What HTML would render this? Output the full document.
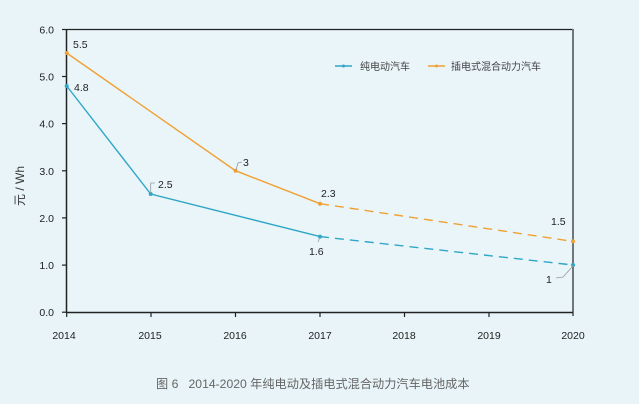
<!DOCTYPE html>
<html><head><meta charset="utf-8"><style>
html,body{margin:0;padding:0;}
body{width:639px;height:404px;background:#e8f4f8;overflow:hidden;}
svg{display:block;}
text{font-family:"Liberation Sans","Noto Sans CJK SC",sans-serif;}
</style></head><body>
<svg width="639" height="404" viewBox="0 0 639 404" xmlns="http://www.w3.org/2000/svg">
<rect x="0" y="0" width="639" height="404" fill="#e8f4f8"/>
<rect x="66.5" y="29.5" width="506" height="283" fill="#eaf5fa"/>
<!-- axes -->
<line x1="66.5" y1="29.5" x2="573" y2="29.5" stroke="#222" stroke-width="1.3"/>
<line x1="573" y1="29" x2="573" y2="316" stroke="#6e767c" stroke-width="2"/>
<line x1="66.5" y1="29" x2="66.5" y2="313" stroke="#222" stroke-width="1.5"/>
<line x1="66" y1="312.5" x2="573" y2="312.5" stroke="#222" stroke-width="1.5"/>
<!-- ticks -->
<g stroke="#222" stroke-width="1.2">
<line x1="62" y1="29.5" x2="66.5" y2="29.5"/>
<line x1="62" y1="76.5" x2="66.5" y2="76.5"/>
<line x1="62" y1="123.6" x2="66.5" y2="123.6"/>
<line x1="62" y1="170.8" x2="66.5" y2="170.8"/>
<line x1="62" y1="217.9" x2="66.5" y2="217.9"/>
<line x1="62" y1="265.1" x2="66.5" y2="265.1"/>
<line x1="62" y1="312.2" x2="66.5" y2="312.2"/>
<line x1="66.7" y1="312" x2="66.7" y2="317"/>
<line x1="151" y1="312" x2="151" y2="317"/>
<line x1="235.5" y1="312" x2="235.5" y2="317"/>
<line x1="320" y1="312" x2="320" y2="317"/>
<line x1="404.5" y1="312" x2="404.5" y2="317"/>
<line x1="489" y1="312" x2="489" y2="317"/>
</g>
<g font-size="10.5" fill="#222" text-anchor="end">
<text x="54" y="33.5">6.0</text>
<text x="54" y="80.5">5.0</text>
<text x="54" y="127.6">4.0</text>
<text x="54" y="174.8">3.0</text>
<text x="54" y="221.9">2.0</text>
<text x="54" y="269.1">1.0</text>
<text x="54" y="316.2">0.0</text>
</g>
<g font-size="10.5" fill="#222" text-anchor="middle">
<text x="64" y="339">2014</text>
<text x="150" y="339">2015</text>
<text x="235" y="339">2016</text>
<text x="320" y="339">2017</text>
<text x="404" y="339">2018</text>
<text x="489" y="339">2019</text>
<text x="573" y="339">2020</text>
</g>
<text transform="translate(24,186) rotate(-90)" font-size="12" fill="#333" text-anchor="middle">元 / Wh</text>
<!-- series -->
<polyline points="66.7,53 235.5,170.7 320,203.7" fill="none" stroke="#f0a033" stroke-width="1.4"/>
<line x1="320" y1="203.7" x2="573" y2="241.4" stroke="#f0a033" stroke-width="1.4" stroke-dasharray="9,6"/>
<polyline points="66.7,86 150.7,194 320,236.6" fill="none" stroke="#2fa7c5" stroke-width="1.4"/>
<line x1="320" y1="236.6" x2="573" y2="265" stroke="#2fa7c5" stroke-width="1.4" stroke-dasharray="9,6"/>
<g fill="#f0a033"><circle cx="66.7" cy="53" r="2"/><circle cx="235.5" cy="170.7" r="2"/><circle cx="320" cy="203.7" r="2"/><circle cx="573" cy="241.4" r="2"/></g>
<g fill="#2fa7c5"><circle cx="66.7" cy="86" r="2"/><circle cx="150.7" cy="194" r="2"/><circle cx="320" cy="236.6" r="2"/><circle cx="573" cy="265" r="2"/></g>
<!-- leaders -->
<g fill="none" stroke="#999" stroke-width="0.8">
<polyline points="150.7,193 150.7,183 155,183"/>
<polyline points="236,170 238,163 242,162"/>
<polyline points="573,266 563,277 556,278"/>
<line x1="320" y1="237" x2="318" y2="242"/>
</g>
<!-- data labels -->
<g font-size="10.5" fill="#222">
<text x="73" y="48">5.5</text>
<text x="74" y="91">4.8</text>
<text x="158" y="188">2.5</text>
<text x="243" y="166">3</text>
<text x="321" y="197">2.3</text>
<text x="309" y="255">1.6</text>
<text x="551" y="225">1.5</text>
<text x="546" y="283">1</text>
</g>
<!-- legend -->
<line x1="335" y1="66" x2="352" y2="66" stroke="#2fa7c5" stroke-width="1.4"/>
<circle cx="343.5" cy="66" r="1.5" fill="#2fa7c5"/>
<text x="360" y="70" font-size="10" fill="#444">纯电动汽车</text>
<line x1="428" y1="66" x2="445" y2="66" stroke="#f0a033" stroke-width="1.4"/>
<circle cx="436.5" cy="66" r="1.5" fill="#f0a033"/>
<text x="451" y="70" font-size="10" fill="#444">插电式混合动力汽车</text>
<!-- caption -->
<text x="156" y="388" font-size="12.2" fill="#666" xml:space="preserve">图 6   2014-2020 年纯电动及插电式混合动力汽车电池成本</text>
</svg>
</body></html>
